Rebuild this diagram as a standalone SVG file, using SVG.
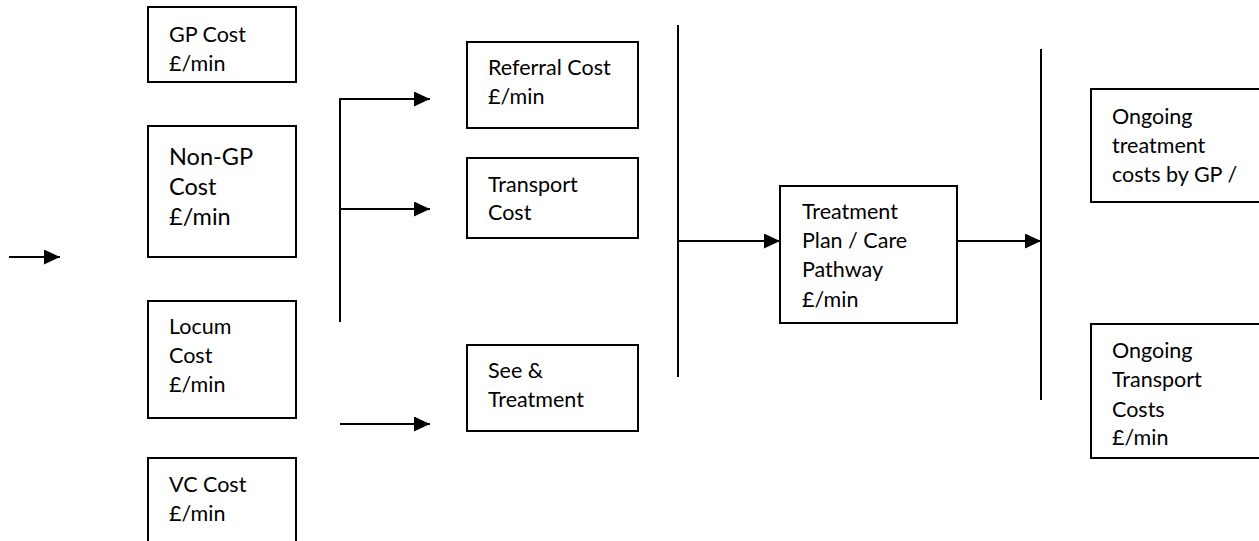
<svg xmlns="http://www.w3.org/2000/svg" width="1259" height="541" viewBox="0 0 1259 541">
<defs>
<marker id="arr" markerWidth="16" markerHeight="15" refX="16" refY="7.5" orient="auto" markerUnits="userSpaceOnUse">
<path d="M0,0 L16,7.5 L0,15 Z" fill="#000"/>
</marker>
<style>
.box{fill:#fff;stroke:#000;stroke-width:2}
.t{font-family:Lato,"Liberation Sans",sans-serif;font-size:21.5px;fill:#000}
.tb{font-family:Lato,"Liberation Sans",sans-serif;font-size:23.5px;fill:#000}
.ln{fill:none;stroke:#000;stroke-width:2}
.ar{fill:none;stroke:#000;stroke-width:2;marker-end:url(#arr)}
</style>
</defs>
<rect width="1259" height="541" fill="#fff"/>
<g id="connectors">
<line class="ar" x1="9" y1="257" x2="60" y2="257"/>
<line class="ln" x1="340" y1="98" x2="340" y2="322"/>
<line class="ar" x1="339" y1="99" x2="430" y2="99"/>
<line class="ar" x1="339" y1="209" x2="430" y2="209"/>
<line class="ar" x1="340" y1="424" x2="430" y2="424"/>
<line class="ln" x1="678" y1="25" x2="678" y2="377"/>
<line class="ar" x1="678" y1="241" x2="780" y2="241"/>
<line class="ln" x1="1041" y1="49" x2="1041" y2="400"/>
<line class="ar" x1="957" y1="241" x2="1041" y2="241"/>
</g>
<g id="gp">
<rect class="box" x="148" y="7" width="148" height="75"/>
<text class="t" x="169" y="42">GP Cost</text>
<text class="t" x="169" y="71">£/min</text>
</g>
<g id="nongp">
<rect class="box" x="148" y="126" width="148" height="131"/>
<text class="tb" x="169" y="165">Non-GP</text>
<text class="tb" x="169" y="195">Cost</text>
<text class="tb" x="169" y="225">£/min</text>
</g>
<g id="locum">
<rect class="box" x="148" y="301" width="148" height="117"/>
<text class="t" x="169" y="334">Locum</text>
<text class="t" x="169" y="363">Cost</text>
<text class="t" x="169" y="392">£/min</text>
</g>
<g id="vc">
<rect class="box" x="148" y="458" width="148" height="100"/>
<text class="t" x="169" y="492">VC Cost</text>
<text class="t" x="169" y="521">£/min</text>
</g>
<g id="referral">
<rect class="box" x="467" y="42" width="171" height="86"/>
<text class="t" x="488" y="75">Referral Cost</text>
<text class="t" x="488" y="104">£/min</text>
</g>
<g id="transport">
<rect class="box" x="467" y="158" width="171" height="80"/>
<text class="t" x="488" y="192">Transport</text>
<text class="t" x="488" y="220">Cost</text>
</g>
<g id="see">
<rect class="box" x="467" y="345" width="171" height="86"/>
<text class="t" x="488" y="378">See &amp;</text>
<text class="t" x="488" y="407">Treatment</text>
</g>
<g id="treatment">
<rect class="box" x="780" y="186" width="177" height="137"/>
<text class="t" x="802" y="219">Treatment</text>
<text class="t" x="802" y="248">Plan / Care</text>
<text class="t" x="802" y="277">Pathway</text>
<text class="t" x="802" y="307">£/min</text>
</g>
<g id="ongoing-treatment">
<rect class="box" x="1091" y="89" width="190" height="113"/>
<text class="t" x="1112" y="124">Ongoing</text>
<text class="t" x="1112" y="153">treatment</text>
<text class="t" x="1112" y="182">costs by GP /</text>
</g>
<g id="ongoing-transport">
<rect class="box" x="1091" y="324" width="190" height="134"/>
<text class="t" x="1112" y="358">Ongoing</text>
<text class="t" x="1112" y="387">Transport</text>
<text class="t" x="1112" y="417">Costs</text>
<text class="t" x="1112" y="445">£/min</text>
</g>
</svg>
